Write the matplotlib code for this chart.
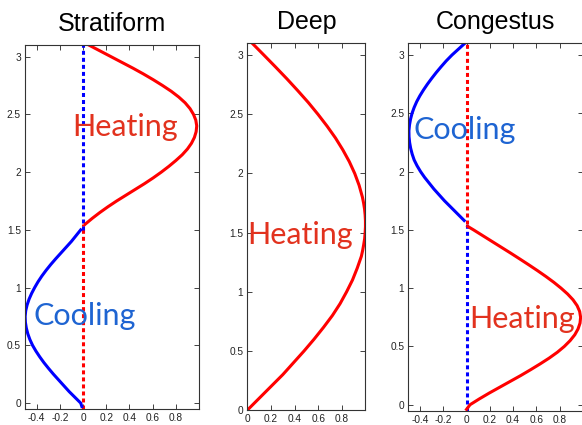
import matplotlib
matplotlib.use("Agg")
import matplotlib.pyplot as plt

plt.rcParams['font.family'] = ['Liberation Sans', 'DejaVu Sans']
plt.rcParams['axes.unicode_minus'] = False

# ----------------------------
# Data (x = heating rate, z = height)
# ----------------------------
# Stratiform: cooling below, heating above
strat_cool_z = [-0.03, 0.0, 0.05, 0.1, 0.15, 0.2, 0.25, 0.3, 0.35, 0.4, 0.45, 0.5, 0.55, 0.6, 0.65, 0.7,
                0.75, 0.8, 0.85, 0.9, 0.95, 1.0, 1.05, 1.1, 1.15, 1.2, 1.25, 1.3, 1.35, 1.4, 1.45, 1.5]
strat_cool_x = [-0.01, -0.02, -0.07, -0.12, -0.165, -0.21, -0.255, -0.297, -0.337, -0.373, -0.406, -0.435,
                -0.458, -0.476, -0.489, -0.497, -0.499, -0.494, -0.482, -0.465, -0.443, -0.417, -0.388,
                -0.355, -0.318, -0.278, -0.235, -0.19, -0.145, -0.10, -0.06, -0.02]
strat_heat_z = [1.55, 1.6, 1.65, 1.7, 1.75, 1.8, 1.85, 1.9, 1.95, 2.0, 2.05, 2.1, 2.15, 2.2, 2.25, 2.3,
                2.35, 2.4, 2.45, 2.5, 2.55, 2.6, 2.65, 2.7, 2.75, 2.8, 2.85, 2.9, 2.95, 3.0, 3.05, 3.1]
strat_heat_x = [0.02, 0.08, 0.145, 0.215, 0.29, 0.37, 0.45, 0.53, 0.605, 0.675, 0.74, 0.80, 0.855, 0.90,
                0.935, 0.96, 0.975, 0.98, 0.972, 0.952, 0.922, 0.88, 0.825, 0.76, 0.685, 0.605, 0.52,
                0.43, 0.335, 0.24, 0.145, 0.05]

# Deep: heating through the whole column
deep_z = [0.0, 0.1, 0.2, 0.3, 0.4, 0.5, 0.6, 0.7, 0.8, 0.9, 1.0, 1.1, 1.2, 1.3, 1.35, 1.4, 1.45, 1.5, 1.55,
          1.6, 1.65, 1.7, 1.75, 1.8, 1.9, 2.0, 2.1, 2.2, 2.3, 2.4, 2.5, 2.6, 2.7, 2.8, 2.9, 3.0, 3.1]
deep_x = [0.0, 0.10, 0.20, 0.30, 0.39, 0.48, 0.565, 0.645, 0.72, 0.785, 0.84, 0.89, 0.93, 0.965, 0.976,
          0.985, 0.993, 0.997, 0.9998, 0.9996, 0.997, 0.992, 0.984, 0.974, 0.946, 0.909, 0.863, 0.808,
          0.746, 0.675, 0.598, 0.516, 0.427, 0.335, 0.239, 0.141, 0.042]

# Congestus: heating below, cooling above
cong_heat_z = [-0.04, 0.0, 0.05, 0.1, 0.15, 0.2, 0.25, 0.3, 0.35, 0.4, 0.45, 0.5, 0.55, 0.6, 0.65, 0.7,
               0.75, 0.8, 0.85, 0.9, 0.95, 1.0, 1.05, 1.1, 1.15, 1.2, 1.25, 1.3, 1.35, 1.4, 1.45, 1.5, 1.53]
cong_heat_x = [0.0, 0.03, 0.11, 0.195, 0.285, 0.375, 0.465, 0.55, 0.632, 0.71, 0.78, 0.84, 0.89, 0.93,
               0.958, 0.975, 0.98, 0.972, 0.95, 0.915, 0.868, 0.812, 0.75, 0.682, 0.61, 0.535, 0.458,
               0.38, 0.30, 0.22, 0.14, 0.06, 0.01]
cong_cool_z = [1.58, 1.6, 1.65, 1.7, 1.75, 1.8, 1.85, 1.9, 1.95, 2.0, 2.05, 2.1, 2.15, 2.2, 2.25, 2.3,
               2.35, 2.4, 2.45, 2.5, 2.55, 2.6, 2.65, 2.7, 2.75, 2.8, 2.85, 2.9, 2.95, 3.0, 3.05, 3.1]
cong_cool_x = [-0.02, -0.04, -0.09, -0.14, -0.19, -0.235, -0.28, -0.32, -0.36, -0.395, -0.425, -0.45,
               -0.467, -0.48, -0.489, -0.494, -0.495, -0.49, -0.481, -0.468, -0.45, -0.428, -0.401,
               -0.37, -0.336, -0.299, -0.26, -0.218, -0.174, -0.125, -0.07, -0.015]

# zero lines (dotted) where the other sign is absent
strat_red_zero = [-0.05, 1.55]
strat_blue_zero = [1.5, 3.1]
cong_blue_zero = [-0.05, 1.55]
cong_red_zero = [1.55, 3.1]

titles = ['Stratiform', 'Deep', 'Congestus']
yticks = [0, 0.5, 1, 1.5, 2, 2.5, 3]
ytick_labels = ['0', '0.5', '1', '1.5', '2', '2.5', '3']
xticks_signed = [-0.4, -0.2, 0, 0.2, 0.4, 0.6, 0.8]
xticks_signed_labels = ['-0.4', '-0.2', '0', '0.2', '0.4', '0.6', '0.8']
xticks_pos = [0, 0.2, 0.4, 0.6, 0.8]
xticks_pos_labels = ['0', '0.2', '0.4', '0.6', '0.8']

RED = '#ff0000'
BLUE = '#0000ff'
HEAT_TXT = '#e2321e'
COOL_TXT = '#1e64d2'
LW = 2.2
DOTS = (1.3, 1.0)
LABEL_FONT = ['Lato', 'DejaVu Sans']

fig = plt.figure(figsize=(5.82, 4.25), dpi=100)
ax1 = fig.add_axes([0.043, 0.038, 0.299, 0.856])
ax2 = fig.add_axes([0.425, 0.035, 0.203, 0.863])
ax3 = fig.add_axes([0.7016, 0.034, 0.300, 0.864])


def style(ax, title, xlim, ylim, xt, xtl):
    ax.set_xlim(*xlim)
    ax.set_ylim(*ylim)
    ax.set_xticks(xt)
    ax.set_xticklabels(xtl)
    ax.set_yticks(yticks)
    ax.set_yticklabels(ytick_labels)
    ax.tick_params(direction='in', length=3.5, width=0.6, labelsize=7.3, pad=3,
                   top=True, right=True, colors='#222222')
    for s in ax.spines.values():
        s.set_linewidth(0.8)
        s.set_color('#333333')
    ax.set_title(title, fontsize=18, pad=10)


def curve(ax, x, z, color):
    ax.plot(x, z, color=color, lw=LW, solid_joinstyle='round')


# Stratiform
ax1.plot([0, 0], strat_red_zero, color=RED, lw=LW, dashes=DOTS)
ax1.plot([0, 0], strat_blue_zero, color=BLUE, lw=LW, dashes=DOTS)
curve(ax1, strat_cool_x, strat_cool_z, BLUE)
curve(ax1, strat_heat_x, strat_heat_z, RED)
ax1.text(0.36, 2.31, 'Heating', color=HEAT_TXT, fontsize=22, family=LABEL_FONT,
         ha='center', va='baseline')
ax1.text(0.01, 0.68, 'Cooling', color=COOL_TXT, fontsize=22, family=LABEL_FONT,
         ha='center', va='baseline')
style(ax1, titles[0], (-0.5, 1.0), (-0.05, 3.1), xticks_signed, xticks_signed_labels)

# Deep
curve(ax2, deep_x, deep_z, RED)
ax2.text(0.45, 1.40, 'Heating', color=HEAT_TXT, fontsize=22, family=LABEL_FONT,
         ha='center', va='baseline')
style(ax2, titles[1], (0, 1.0), (0, 3.1), xticks_pos, xticks_pos_labels)

# Congestus
ax3.plot([0, 0], cong_blue_zero, color=BLUE, lw=LW, dashes=DOTS)
ax3.plot([0, 0], cong_red_zero, color=RED, lw=LW, dashes=DOTS)
curve(ax3, cong_heat_x, cong_heat_z, RED)
curve(ax3, cong_cool_x, cong_cool_z, BLUE)
ax3.text(-0.02, 2.28, 'Cooling', color=COOL_TXT, fontsize=22, family=LABEL_FONT,
         ha='center', va='baseline')
ax3.text(0.474, 0.66, 'Heating', color=HEAT_TXT, fontsize=22, family=LABEL_FONT,
         ha='center', va='baseline')
style(ax3, titles[2], (-0.5, 1.0), (-0.05, 3.1), xticks_signed, xticks_signed_labels)

fig.savefig('out.png', dpi=100)
